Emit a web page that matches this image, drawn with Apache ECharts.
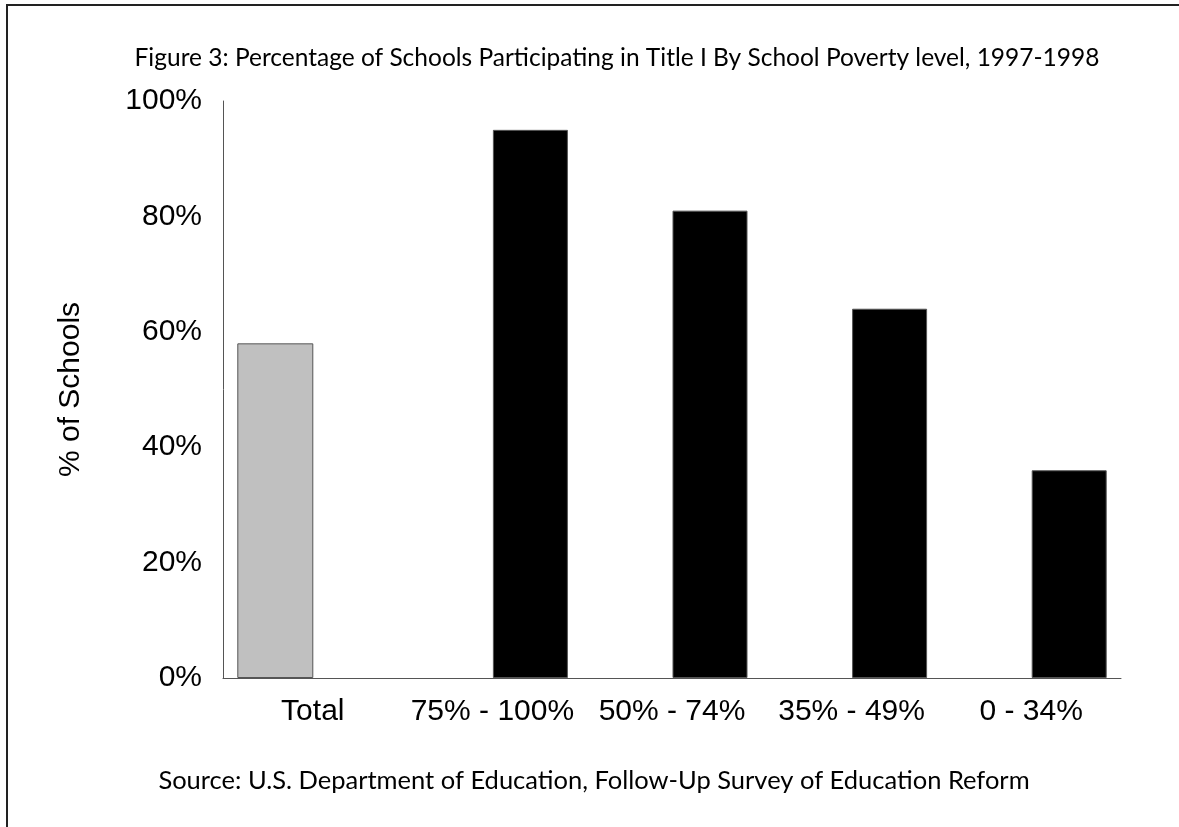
<!DOCTYPE html>
<html>
<head>
<meta charset="utf-8">
<script src="https://cdn.jsdelivr.net/npm/echarts@6/dist/echarts.min.js"></script>
<style>
html,body{margin:0;padding:0;background:#fff;}
#chart{width:1179px;height:827px;}
</style>
</head>
<body>
<div id="chart"></div>
<script>
const categories = ['Total', '75% - 100%', '50% - 74%', '35% - 49%', '0 - 34%'];
const totalValues = [58, null, null, null, null];
const povertyValues = [null, 95, 81, 64, 36];
const yTicks = [0, 20, 40, 60, 80, 100];
const titleText = 'Figure 3: Percentage of Schools Participating in Title I By School Poverty level, 1997-1998';
const sourceText = 'Source: U.S. Department of Education, Follow-Up Survey of Education Reform';
const yAxisName = '% of Schools';

const chart = echarts.init(document.getElementById('chart'), null, {renderer: 'canvas'});
const humanist = 'Lato, "Open Sans", sans-serif';
const arial = '"Liberation Sans", Arial, sans-serif';

chart.setOption({
  animation: false,
  backgroundColor: '#ffffff',
  grid: {left: 223, right: 58, top: 101, bottom: 149, containLabel: false},
  xAxis: {
    type: 'category',
    data: categories,
    axisLine: {lineStyle: {color: '#555555', width: 1}},
    axisTick: {show: false},
    axisLabel: {color: '#000', fontFamily: arial, fontSize: 30, margin: 19, interval: 0}
  },
  yAxis: {
    type: 'value',
    min: yTicks[0],
    max: yTicks[yTicks.length - 1],
    interval: 20,
    name: yAxisName,
    nameLocation: 'middle',
    nameGap: 137,
    nameRotate: 90,
    nameTextStyle: {color: '#000', fontFamily: arial, fontSize: 30},
    axisLine: {show: true, lineStyle: {color: '#555555', width: 1}},
    axisTick: {show: false},
    splitLine: {show: false},
    axisLabel: {color: '#000', fontFamily: arial, fontSize: 30, margin: 21,
      formatter: v => v + '%'}
  },
  series: [
    {
      type: 'bar', name: 'Total', data: totalValues,
      barWidth: 76, barGap: '0%',
      itemStyle: {color: '#c0c0c0', borderColor: '#555555', borderWidth: 1}
    },
    {
      type: 'bar', name: 'Poverty', data: povertyValues,
      barWidth: 75, barGap: '0%',
      itemStyle: {color: '#000000', borderColor: '#555555', borderWidth: 1}
    }
  ],
  graphic: [
    {type: 'polyline', shape: {points: [[7, 840], [7, 5], [1185, 5]]},
      style: {fill: 'none', stroke: '#222', lineWidth: 2}, silent: true},
    {type: 'text', x: 617, y: 58, style: {text: titleText, fill: '#000',
      font: '24.5px ' + humanist, textAlign: 'center', textVerticalAlign: 'middle'}},
    {type: 'text', x: 594, y: 781, style: {text: sourceText, fill: '#000',
      font: '25.5px ' + humanist, textAlign: 'center', textVerticalAlign: 'middle'}}
  ]
});
</script>
</body>
</html>
